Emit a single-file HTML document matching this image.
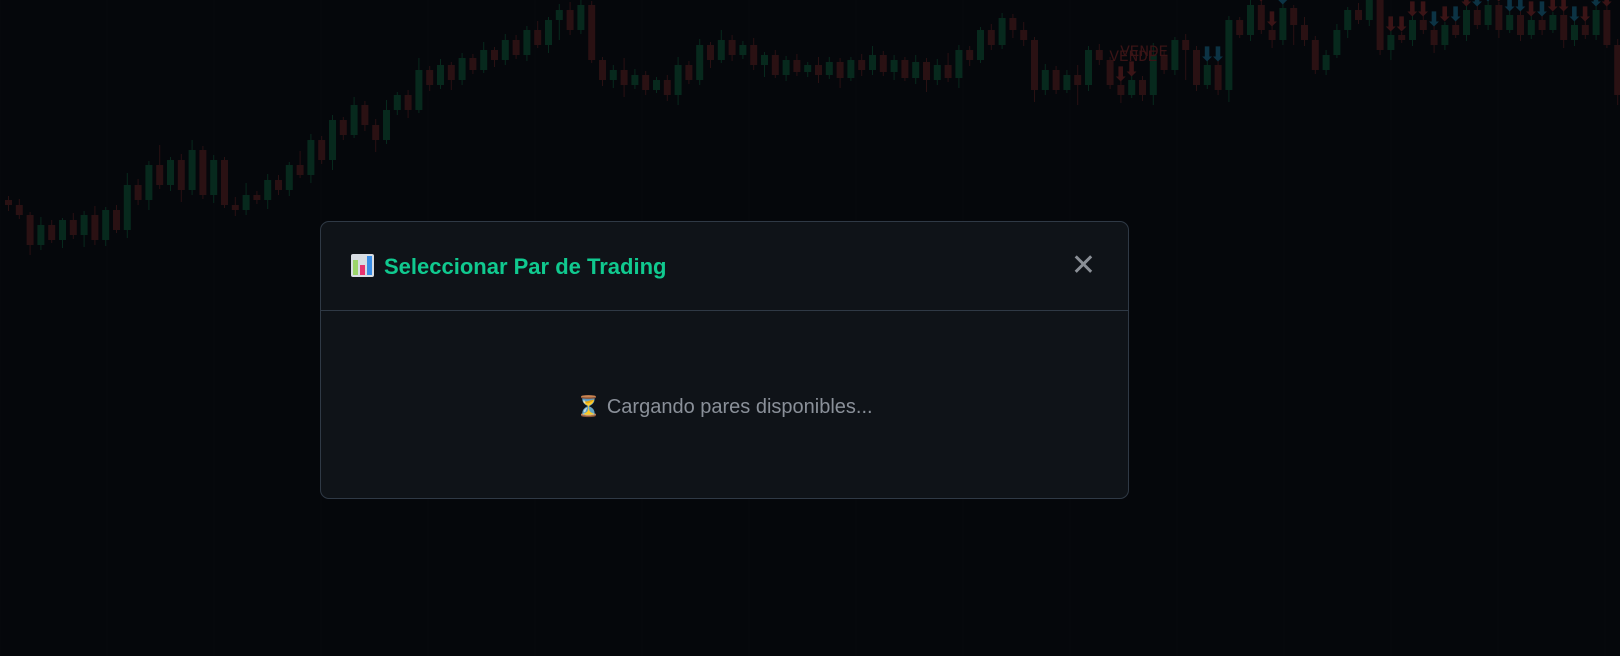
<!DOCTYPE html>
<html><head><meta charset="utf-8"><style>
html,body{margin:0;padding:0;width:1620px;height:656px;overflow:hidden;background:#05070b;font-family:"Liberation Sans","DejaVu Sans",sans-serif}
#chart{position:absolute;left:0;top:0}
.modal{position:absolute;left:320px;top:221px;width:809px;height:278px;background:#0f1318;border:1px solid #2f3945;border-radius:9px;box-sizing:border-box}
.hdr{position:absolute;left:0;top:0;right:0;height:88px;border-bottom:1px solid #2f3945}
.title{position:absolute;left:30px;top:32px;font-size:22px;font-weight:bold;color:#10c98f;white-space:nowrap}
.ico{display:inline-block;width:23px;height:23px;vertical-align:-3px;margin-right:10px;background:#d8dde3;border-radius:2px;position:relative}
.ico i{position:absolute;bottom:2px;width:5px}
.close{position:absolute;right:32px;top:26px;font-size:30px;color:#8a8f96;font-weight:bold;cursor:pointer}
.load{position:absolute;left:0;right:0;top:172px;text-align:center;font-size:20px;color:#8a9099}
</style></head><body>
<svg id="chart" width="1620" height="656"></svg>
<div class="modal">
 <div class="hdr">
  <div class="title"><span class="ico"><i style="left:2px;height:15px;background:#9bd46a"></i><i style="left:9px;height:10px;background:#e8336f"></i><i style="left:16px;height:19px;background:#3a8ee6"></i></span>Seleccionar Par de Trading</div>
  <div class="close">✕</div>
 </div>
 <div class="load">⏳ Cargando pares disponibles...</div>
</div>
<script>
const closesY=[205,215,245,225,240,220,235,215,240,210,230,185,200,165,185,160,190,150,195,160,205,210,195,200,180,190,165,175,140,160,120,135,105,125,140,110,95,110,70,85,65,80,58,70,50,60,40,55,30,45,20,10,30,5,60,80,70,85,75,90,80,95,65,80,45,60,40,55,45,65,55,75,60,72,65,75,62,78,60,70,55,72,60,78,62,80,65,78,50,60,30,45,18,30,40,90,70,90,75,85,50,60,85,95,80,95,55,70,40,50,85,65,90,20,35,5,30,40,8,25,40,70,55,30,10,20,0,50,35,40,20,30,45,25,35,10,25,5,30,15,35,20,30,15,40,25,35,10,45,95];
const closes=closesY.map(y=>700-y);
const wickUp=[4,6,3,8,5,2,7,4,9,3,5,12,6,4,20,3,6,10,4,5,3,8,12,4,6,5,3,14,6,4,5,3,8,4,6,10,3,5,12,4,6,3,5,4,8,3,6,5,4,9,3,6,8,10,4,3,5,12,6,4,3,5,8,4,6,3,10,5,4,7,3,5,4,6,3,8,5,4,3,6,9,4,5,3,7,4,6,12,5,4,3,6,5,4,8,3,6,4,5,10,4,6,3,5,8,4,12,5,3,6,4,5,7,4,3,9,5,4,6,3,8,4,5,6,3,7,4,5,9,3,6,4,5,3,8,4,6,5,3,7,4,6,5,3,8,4,6,5,4,6];
const wickDn=[6,4,10,5,3,8,4,12,5,6,3,8,5,10,4,6,12,5,4,8,3,6,5,4,9,5,6,3,8,4,10,5,3,6,12,4,5,8,3,6,4,10,5,4,3,7,5,4,6,3,8,20,5,4,3,6,8,12,4,5,3,6,10,4,5,8,3,6,4,5,12,3,6,4,5,8,4,10,3,6,5,4,8,3,6,12,5,4,10,6,3,5,4,8,6,12,5,4,3,20,6,5,4,8,3,6,10,4,5,30,6,4,5,12,3,6,4,8,5,20,6,4,5,3,8,4,6,5,10,3,6,4,8,5,3,6,4,5,8,3,6,4,5,3,8,6,4,5,3,10];
const markers=[[103,'VENDE','s'],[104,'VENDE','s'],[111,'','b'],[112,'','b'],[116,'','s'],[117,'','s'],[118,'','b'],[128,'','s'],[129,'','s'],[130,'','s'],[131,'','s'],[132,'','b'],[133,'','s'],[134,'','b'],[135,'','s'],[136,'','b'],[137,'','b'],[138,'','s'],[139,'','b'],[140,'','b'],[141,'','s'],[142,'','b'],[143,'','s'],[144,'','s'],[145,'','b'],[146,'','s'],[147,'','b'],[148,'VENDE','s']];
const svg=document.getElementById('chart');
const NS='http://www.w3.org/2000/svg';
const xS=i=>5+i*10.8;
const yS=p=>700-p;
for(let gx=0;gx<1620;gx+=107){const l=document.createElementNS(NS,'line');l.setAttribute('x1',gx);l.setAttribute('x2',gx);l.setAttribute('y1',0);l.setAttribute('y2',656);l.setAttribute('stroke','#080a0e');

svg.appendChild(l);}
for(let i=0;i<closes.length;i++){
 const c=closes[i],o=i>0?closes[i-1]:closes[0]+5;
 const up=c>=o,col=up?'#07291d':'#2a1113';
 const top=yS(Math.max(o,c)),bot=yS(Math.min(o,c));
 const g=document.createElementNS(NS,'g');
 
 
 const w=document.createElementNS(NS,'line');
 w.setAttribute('x1',xS(i)+3.5);w.setAttribute('x2',xS(i)+3.5);
 w.setAttribute('y1',top-wickUp[i]);w.setAttribute('y2',bot+wickDn[i]);
 w.setAttribute('stroke',col);w.setAttribute('stroke-width',1);g.appendChild(w);
 const r=document.createElementNS(NS,'rect');
 r.setAttribute('x',xS(i));r.setAttribute('width',7);r.setAttribute('y',top);r.setAttribute('height',Math.max(1.5,bot-top));r.setAttribute('fill',col);g.appendChild(r);
 svg.appendChild(g);
}
markers.forEach(m=>{
 const i=m[0],t=document.createElementNS(NS,'text');
 t.setAttribute('x',xS(i)-5);t.setAttribute('y',yS(Math.max(closes[i],closes[i-1]))-4);
 t.setAttribute('font-size',20);t.setAttribute('fill',m[2]=='s'?'#3a1416':'#0c3344');
 t.setAttribute('font-family','DejaVu Sans, sans-serif');
 
 
 t.textContent='⬇';svg.appendChild(t);
 if(m[1]){const s=document.createElementNS(NS,'text');s.setAttribute('x',xS(i)-8);s.setAttribute('y',yS(Math.max(closes[i],closes[i-1]))-24);s.setAttribute('font-size',16);s.setAttribute('fill','#3a1416');s.setAttribute('font-family','Liberation Mono, monospace');
 
 
 s.textContent=m[1];svg.appendChild(s);}
});
</script>
</body></html>
